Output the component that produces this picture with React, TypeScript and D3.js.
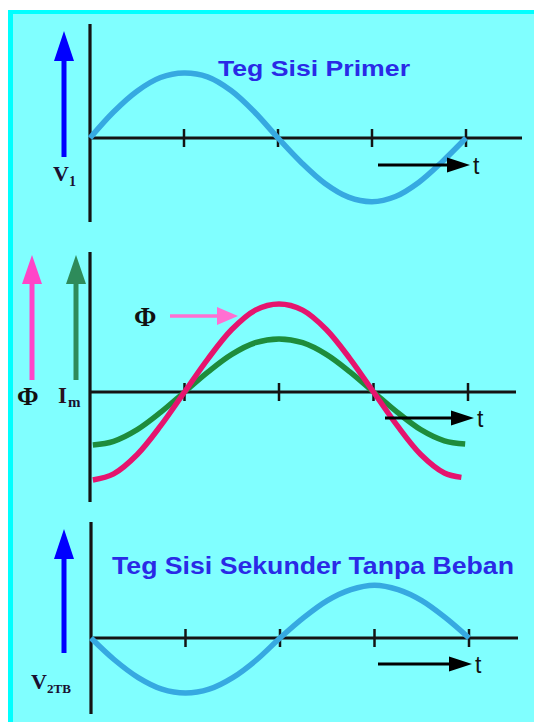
import React from 'react';
import * as d3 from 'd3';

// Time axis in quarter-period steps (one tick = a quarter cycle)
const quarterSteps = [0, 0.25, 0.5, 0.75, 1, 1.25, 1.5, 1.75, 2, 2.25, 2.5, 2.75, 3, 3.25, 3.5, 3.75, 4];
const fluxSteps = [0.03, 0.25, 0.5, 0.75, 1, 1.25, 1.5, 1.75, 2, 2.25, 2.5, 2.75, 3, 3.25, 3.5, 3.75, 3.93];
const currentSteps = [0.03, 0.25, 0.5, 0.75, 1, 1.25, 1.5, 1.75, 2, 2.25, 2.5, 2.75, 3, 3.25, 3.5, 3.75, 3.97];
const tickSteps = [1, 2, 3, 4];

// Primary-side voltage V1 (per-unit)
const primaryVoltage = [0, 0.4, 0.72, 0.93, 1.0, 0.94, 0.73, 0.4, 0, -0.38, -0.7, -0.91, -0.98, -0.9, -0.68, -0.36, 0];
// Core flux Φ (per-unit)
const fluxValues = [-1.0, -0.93, -0.71, -0.38, 0, 0.38, 0.71, 0.93, 1.0, 0.93, 0.71, 0.38, 0, -0.38, -0.71, -0.92, -0.97];
// Magnetising current Im (per-unit)
const magnetizingCurrent = [-1.0, -0.93, -0.71, -0.38, 0, 0.38, 0.71, 0.93, 1.0, 0.93, 0.71, 0.38, 0, -0.38, -0.71, -0.92, -0.98];
// No-load secondary voltage V2TB (per-unit)
const secondaryVoltage = [0, -0.4, -0.72, -0.93, -1.0, -0.93, -0.72, -0.4, 0, 0.37, 0.68, 0.88, 0.96, 0.88, 0.68, 0.37, 0];

const titlePrimary = 'Teg Sisi Primer';
const titleSecondary = 'Teg Sisi Sekunder Tanpa Beban';

const W = 534;
const H = 722;
const AXIS = '#141414';
const SERIF = '"Liberation Serif", "DejaVu Serif", serif';
const SANS = '"Liberation Sans", Arial, sans-serif';

type Pt = [number, number];

function Arrow({ x1, y1, x2, y2, color, width, headLen, headHalf }: {
  x1: number; y1: number; x2: number; y2: number; color: string; width: number; headLen: number; headHalf: number;
}) {
  const ang = Math.atan2(y2 - y1, x2 - x1);
  const bx = x2 - headLen * Math.cos(ang);
  const by = y2 - headLen * Math.sin(ang);
  const px = -Math.sin(ang) * headHalf;
  const py = Math.cos(ang) * headHalf;
  return (
    <g>
      <line x1={x1} y1={y1} x2={bx} y2={by} stroke={color} strokeWidth={width} />
      <path d={`M${x2},${y2}L${bx + px},${by + py}L${bx - px},${by - py}Z`} fill={color} />
    </g>
  );
}

function Panel({ x0, x4, y0, yTop, yBottom, xEnd, children }: {
  x0: number; x4: number; y0: number; yTop: number; yBottom: number; xEnd: number; children?: React.ReactNode;
}) {
  const x = d3.scaleLinear().domain([0, 4]).range([x0, x4]);
  return (
    <g>
      <line x1={x0} y1={yTop} x2={x0} y2={yBottom} stroke={AXIS} strokeWidth={3.2} />
      <line x1={x0} y1={y0} x2={xEnd} y2={y0} stroke={AXIS} strokeWidth={3.2} />
      {tickSteps.map((t) => (
        <line key={t} x1={x(t)} x2={x(t)} y1={y0 - 9} y2={y0 + 9} stroke={AXIS} strokeWidth={2.5} />
      ))}
      {children}
    </g>
  );
}

function wave(xs: number[], ys: number[], x0: number, x4: number, y0: number, amp: number) {
  const x = d3.scaleLinear().domain([0, 4]).range([x0, x4]);
  const y = d3.scaleLinear().domain([-1, 1]).range([y0 + amp, y0 - amp]);
  const pts: Pt[] = xs.map((t, i) => [x(t), y(ys[i])]);
  return d3.line().curve(d3.curveCatmullRom.alpha(0.5))(pts) || '';
}

function TArrow({ x1, x2, y }: { x1: number; x2: number; y: number }) {
  return (
    <g>
      <Arrow x1={x1} y1={y} x2={x2} y2={y} color="#000" width={3} headLen={23} headHalf={7.5} />
      <text x={x2 + 3} y={y + 9} fontFamily={SANS} fontSize={23} fill="#111">t</text>
    </g>
  );
}

export default function App() {
  // panel geometry
  const top = { x0: 90, x4: 466, y0: 138 };
  const mid = { x0: 90, x4: 468, y0: 392 };
  const bot = { x0: 91, x4: 469, y0: 638 };

  return (
    <svg width={W} height={H} style={{ position: 'absolute', left: 0, top: 0, display: 'block' }}>
      <rect x={0} y={0} width={W} height={H} fill="#ffffff" />
      <rect x={8} y={10} width={W - 8} height={H - 10} fill="#00ffff" />
      <rect x={13} y={14} width={W - 13} height={H - 14} fill="#80ffff" />

      {/* Primary voltage */}
      <Panel {...top} yTop={24} yBottom={222} xEnd={522}>
        <path d={wave(quarterSteps, primaryVoltage, top.x0, top.x4, top.y0, 65)} fill="none" stroke="#36a9e1" strokeWidth={5.5} />
      </Panel>
      <Arrow x1={64} y1={157} x2={64} y2={31} color="#0000ff" width={5} headLen={30} headHalf={10} />
      <text x={53} y={181} fontFamily={SERIF} fontWeight="bold" fontSize={22} fill="#1a1030">V</text>
      <text x={69} y={186} fontFamily={SERIF} fontWeight="bold" fontSize={14} fill="#1a1030">1</text>
      <text x={218} y={76} fontFamily={SANS} fontWeight="bold" fontSize={22} fill="#2a2ae6"
        textLength={192} lengthAdjust="spacingAndGlyphs">{titlePrimary}</text>
      <TArrow x1={378} x2={470} y={165} />

      {/* Flux and magnetising current */}
      <Panel {...mid} yTop={252} yBottom={502} xEnd={516}>
        <path d={wave(currentSteps, magnetizingCurrent, mid.x0, mid.x4, mid.y0, 53)} fill="none" stroke="#1e8c3c" strokeWidth={5.5} />
        <path d={wave(fluxSteps, fluxValues, mid.x0, mid.x4, mid.y0, 88)} fill="none" stroke="#e5146e" strokeWidth={5.5} />
      </Panel>
      <Arrow x1={32} y1={380} x2={32} y2={255} color="#ff45c8" width={5} headLen={29} headHalf={10} />
      <Arrow x1={76} y1={380} x2={76} y2={255} color="#2e8b5a" width={5} headLen={29} headHalf={10} />
      <text x={17} y={405} fontFamily={SERIF} fontWeight="bold" fontSize={26} fill="#111">Φ</text>
      <text x={58} y={403} fontFamily={SERIF} fontWeight="bold" fontSize={23} fill="#2a1020">I</text>
      <text x={68} y={407} fontFamily={SERIF} fontWeight="bold" fontSize={15} fill="#1a1030">m</text>
      <text x={134} y={326} fontFamily={SERIF} fontWeight="bold" fontSize={27} fill="#111">Φ</text>
      <Arrow x1={170} y1={316} x2={238} y2={316} color="#ff6fd2" width={3.5} headLen={21} headHalf={9} />
      <TArrow x1={385} x2={474} y={418} />

      {/* No-load secondary voltage */}
      <Panel {...bot} yTop={522} yBottom={714} xEnd={518}>
        <path d={wave(quarterSteps, secondaryVoltage, bot.x0, bot.x4, bot.y0, 55)} fill="none" stroke="#36a9e1" strokeWidth={5.5} />
      </Panel>
      <Arrow x1={64} y1={653} x2={64} y2={529} color="#0000ff" width={5} headLen={30} headHalf={10} />
      <text x={31} y={689} fontFamily={SERIF} fontWeight="bold" fontSize={22} fill="#1a1030">V</text>
      <text x={47} y={693} fontFamily={SERIF} fontWeight="bold" fontSize={13} fill="#1a1030">2TB</text>
      <text x={112} y={574} fontFamily={SANS} fontWeight="bold" fontSize={23} fill="#2a2ae6"
        textLength={402} lengthAdjust="spacingAndGlyphs">{titleSecondary}</text>
      <TArrow x1={378} x2={472} y={664} />
    </svg>
  );
}
